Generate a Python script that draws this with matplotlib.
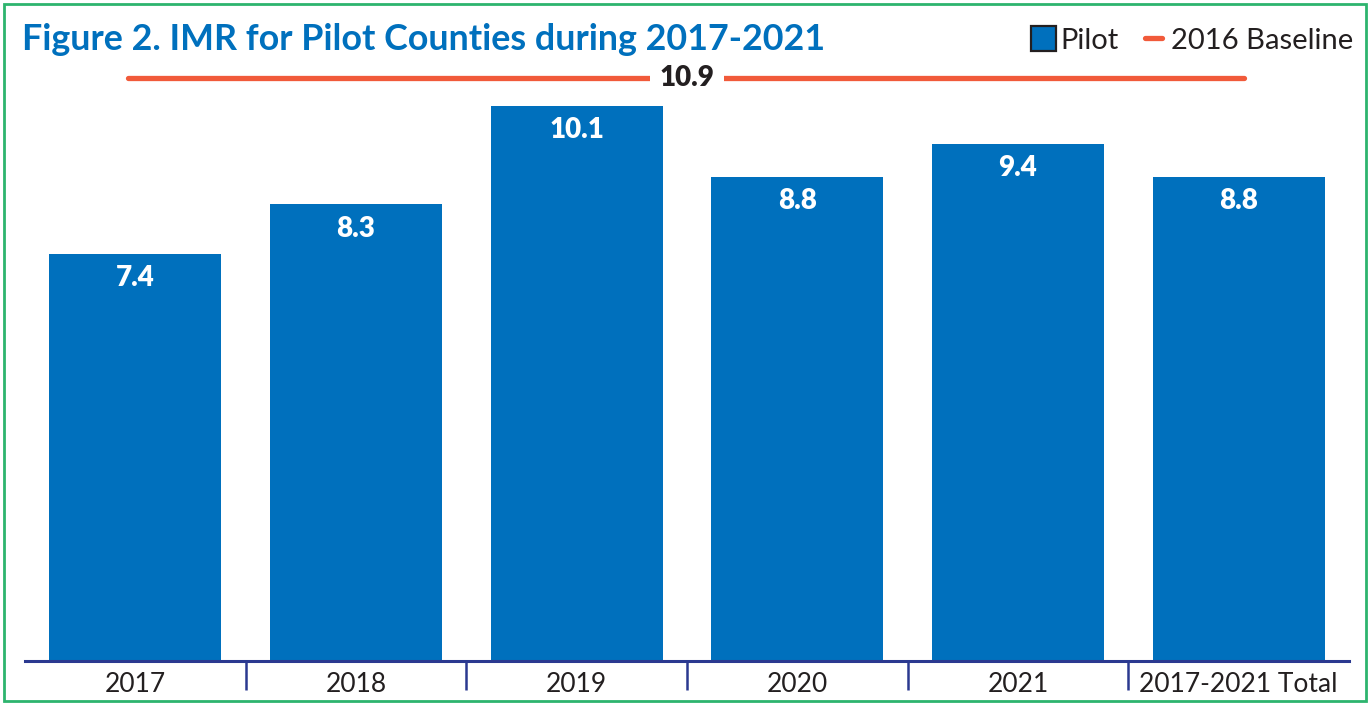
import matplotlib
matplotlib.use('Agg')
import matplotlib.pyplot as plt
import matplotlib.patches as mpatches
from matplotlib.lines import Line2D
import numpy as np

categories = ['2017', '2018', '2019', '2020', '2021', '2017-2021 Total']
pilot_imr = [7.4, 8.3, 10.1, 8.8, 9.4, 8.8]
baseline_2016 = 10.9

blue = '#0070BD'
orange = '#F15A3A'
navy = '#2B3990'
dark = '#231F20'

plt.rcParams['font.family'] = ['Lato', 'DejaVu Sans']

fig = plt.figure(figsize=(13.69, 7.04), dpi=100)
ax = fig.add_axes([25 / 1369, 43 / 704, 1324 / 1369, 616 / 704])

x = np.arange(len(categories))
bars = ax.bar(x, pilot_imr, width=0.78, color=blue, zorder=2)
for b, v in zip(bars, pilot_imr):
    ax.annotate(f'{v}', (b.get_x() + b.get_width() / 2, v),
                xytext=(0, -8), textcoords='offset points',
                ha='center', va='top', color='white',
                fontsize=20, fontweight='heavy')

ax.set_xlim(-0.5, len(categories) - 0.5)
ax.set_ylim(0, 11.2)
ax.set_yticks([])
for s in ['top', 'right', 'left']:
    ax.spines[s].set_visible(False)
ax.spines['bottom'].set_color(navy)
ax.spines['bottom'].set_linewidth(2.2)

ax.set_xticks(x)
ax.set_xticklabels(categories, fontsize=19, color=dark)
ax.tick_params(axis='x', which='major', length=0, pad=8)
ax.set_xticks(x[:-1] + 0.5, minor=True)
ax.tick_params(axis='x', which='minor', length=21, width=1.8, color=navy)

# baseline drawn on its own overlay scale so it sits above the bars
ax2 = ax.twinx()
ax2.set_ylim(0, 11.52)
ax2.axis('off')
ax2.axhline(baseline_2016, xmin=0.078, xmax=0.921, color=orange,
            linewidth=3.8, solid_capstyle='round')
ax2.text(0.5, baseline_2016, f'{baseline_2016}', transform=ax2.get_yaxis_transform(),
         ha='center', va='center', fontsize=20, fontweight='heavy', color=dark,
         bbox=dict(boxstyle='square,pad=0.35', fc='white', ec='none'))

fig.text(22 / 1369, 1 - 39 / 704, 'Figure 2. IMR for Pilot Counties during 2017-2021',
         ha='left', va='center', fontsize=25.8, fontweight='bold', color=blue)

handles = [Line2D([], [], marker='s', linestyle='none', markersize=18,
                  markerfacecolor=blue, markeredgecolor=dark, markeredgewidth=1.6,
                  label='Pilot'),
           Line2D([], [], color=orange, linewidth=3.8, solid_capstyle='round',
                  label='2016 Baseline')]
fig.legend(handles=handles, loc='center right', bbox_to_anchor=(1353 / 1369, 1 - 40 / 704),
           ncol=2, frameon=False, fontsize=21, handlelength=0.6, handleheight=1.1,
           handletextpad=0.3, columnspacing=0.9, labelcolor=dark,
           borderaxespad=0, borderpad=0)

fig.add_artist(mpatches.Rectangle((4 / 1369, 3 / 704), 1362 / 1369, 697 / 704,
                                  transform=fig.transFigure, fill=False,
                                  edgecolor='#2DB46E', linewidth=2))

fig.savefig('out.png', dpi=100, facecolor='white')
